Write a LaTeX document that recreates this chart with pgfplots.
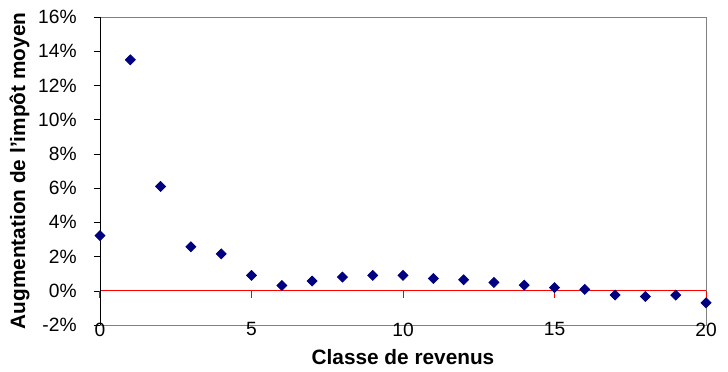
\documentclass[border=0pt]{standalone}
\usepackage{fontspec}
\setmainfont{Liberation Sans}
\usepackage{pgfplots}
\pgfplotsset{compat=1.18}
\definecolor{navy}{RGB}{0,0,128}
\definecolor{frame}{RGB}{128,128,128}
\begin{document}
\begin{tikzpicture}
\begin{axis}[
  scale only axis,
  width=303pt, height=154pt,
  xmin=0, xmax=20, ymin=-2, ymax=16,
  axis line style={frame},
  xtick={0,5,10,15,20},
  major x tick style={draw=none},
  xticklabel style={anchor=center, inner sep=0pt, yshift=0.8pt},
  ytick={-2,0,...,16},
  yticklabels={-2\%,0\%,2\%,4\%,6\%,8\%,10\%,12\%,14\%,16\%},
  ytick pos=left,
  major y tick style={black},
  tick align=outside,
  major tick length=3pt,
  yticklabel style={anchor=east, inner sep=0pt, xshift=-8.5pt},
  tick label style={font=\fontsize{9.6}{11}\selectfont},
  /pgf/number format/assume math mode=true,
  xlabel={\textbf{Classe de revenus}},
  ylabel={\textbf{Augmentation de l'impôt moyen}},
  label style={font=\fontsize{10.4}{12}\selectfont},
  xlabel style={at={(rel axis cs:0.5,0)}, anchor=north, inner sep=0pt, yshift=-12pt},
  ylabel style={at={(rel axis cs:0,0.5)}, anchor=south, inner sep=0pt, yshift=35pt},
  clip=false,
]
\addplot[red, no marks, line width=0.6pt] coordinates {(0,0) (20,0)};
\pgfplotsinvokeforeach{0,5,10,15,20}{\draw[red, line width=0.5pt] (axis cs:#1,0) -- (axis cs:#1,-0.41);}
\draw[black] (rel axis cs:0,0) -- (rel axis cs:0,1);
\addplot[only marks, mark=square*, mark size=1.75pt, mark options={rotate=45, fill=navy, draw=navy}]
  coordinates {
    (0,3.22) (1,13.5) (2,6.1) (3,2.57) (4,2.16) (5,0.90) (6,0.31) (7,0.57)
    (8,0.80) (9,0.90) (10,0.90) (11,0.72) (12,0.64) (13,0.49) (14,0.33)
    (15,0.18) (16,0.08) (17,-0.25) (18,-0.33) (19,-0.25) (20,-0.70)
  };
\end{axis}
\path (current axis.south west) ++(-50pt,-23pt);
\path (current axis.north east) ++(11pt,8.5pt);
\end{tikzpicture}
\end{document}
